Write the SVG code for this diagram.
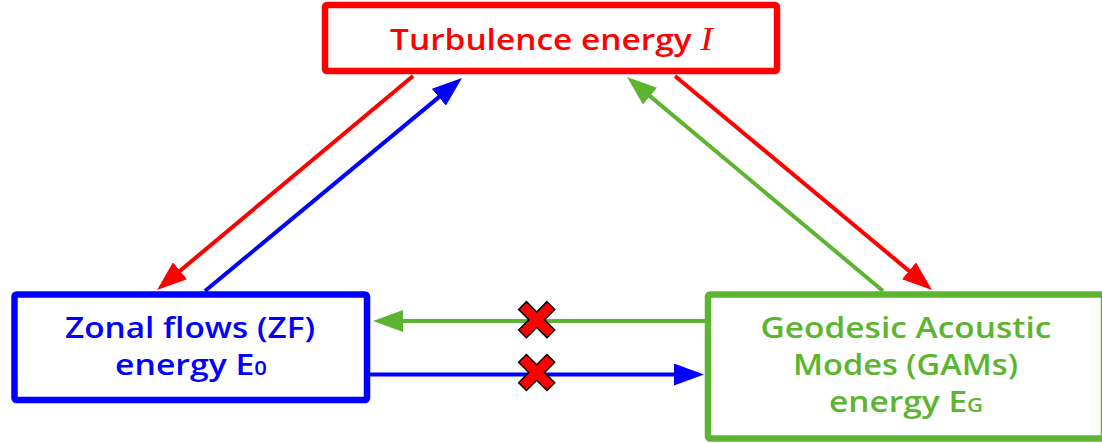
<svg xmlns="http://www.w3.org/2000/svg" width="1102" height="443" viewBox="0 0 1102 443">
<style>
.box{fill:#ffffff;stroke-width:6.5;stroke-linejoin:round}
.lbl{font-family:"Open Sans","Liberation Sans",sans-serif;font-weight:600;font-size:29px;text-anchor:middle}
.sub{font-size:19px}
.ln{stroke-width:4;fill:none}
.xm{fill:#ff0000;stroke:#000000;stroke-width:1.5;stroke-linejoin:miter}
</style>
<defs>
<marker id="ar" markerUnits="userSpaceOnUse" markerWidth="30" markerHeight="22" refX="2" refY="11" orient="auto" viewBox="0 0 30 22"><path d="M0,0 L30,11 L0,22 Z" fill="#ff0000"/></marker>
<marker id="ab" markerUnits="userSpaceOnUse" markerWidth="30" markerHeight="22" refX="2" refY="11" orient="auto" viewBox="0 0 30 22"><path d="M0,0 L30,11 L0,22 Z" fill="#0000ff"/></marker>
<marker id="ag" markerUnits="userSpaceOnUse" markerWidth="30" markerHeight="22" refX="2" refY="11" orient="auto" viewBox="0 0 30 22"><path d="M0,0 L30,11 L0,22 Z" fill="#5cb531"/></marker>
<path id="xshape" d="M-5.5,-20 L5.5,-20 L5.5,-5.5 L20,-5.5 L20,5.5 L5.5,5.5 L5.5,20 L-5.5,20 L-5.5,5.5 L-20,5.5 L-20,-5.5 L-5.5,-5.5 Z"/>
</defs>
<g id="turbulence">
<rect class="box" x="325" y="5" width="452" height="66" rx="2" stroke="#ff0000"/>
<text class="lbl" x="551.5" y="50" fill="#ff0000" textLength="323" lengthAdjust="spacingAndGlyphs">Turbulence energy <tspan font-family="'Liberation Serif',serif" font-style="italic" font-weight="400" font-size="33">I</tspan></text>
</g>
<g id="zonal-flows">
<rect class="box" x="14.5" y="294.5" width="352.5" height="105.5" rx="2" stroke="#0000ff"/>
<text class="lbl" x="190" y="338" fill="#0000ff" textLength="250" lengthAdjust="spacingAndGlyphs">Zonal flows (ZF)</text>
<text class="lbl" x="191" y="375" fill="#0000ff" textLength="152" lengthAdjust="spacingAndGlyphs">energy E<tspan class="sub">0</tspan></text>
</g>
<g id="gams">
<rect class="box" x="708" y="294.5" width="396" height="144" rx="2" stroke="#5cb531"/>
<text class="lbl" x="906" y="338" fill="#5cb531" textLength="291" lengthAdjust="spacingAndGlyphs">Geodesic Acoustic</text>
<text class="lbl" x="905.5" y="375" fill="#5cb531" textLength="225" lengthAdjust="spacingAndGlyphs">Modes (GAMs)</text>
<text class="lbl" x="906" y="412" fill="#5cb531" textLength="154" lengthAdjust="spacingAndGlyphs">energy E<tspan class="sub">G</tspan></text>
</g>
<g id="connectors">
<line class="ln" x1="413" y1="76" x2="178.5" y2="272.1" stroke="#ff0000" marker-end="url(#ar)"/>
<line class="ln" x1="205" y1="291" x2="440.4" y2="95.9" stroke="#0000ff" marker-end="url(#ab)"/>
<line class="ln" x1="675" y1="76" x2="910.5" y2="272.1" stroke="#ff0000" marker-end="url(#ar)"/>
<line class="ln" x1="883" y1="291" x2="648.5" y2="94.9" stroke="#5cb531" marker-end="url(#ag)"/>
<line class="ln" x1="705" y1="321" x2="401" y2="321" stroke="#5cb531" marker-end="url(#ag)"/>
<line class="ln" x1="370" y1="374.5" x2="676" y2="374.5" stroke="#0000ff" marker-end="url(#ab)"/>
<use href="#xshape" class="xm" transform="translate(536.7,319.7) rotate(45)"/>
<use href="#xshape" class="xm" transform="translate(536.7,372.5) rotate(45)"/>
</g>
</svg>
